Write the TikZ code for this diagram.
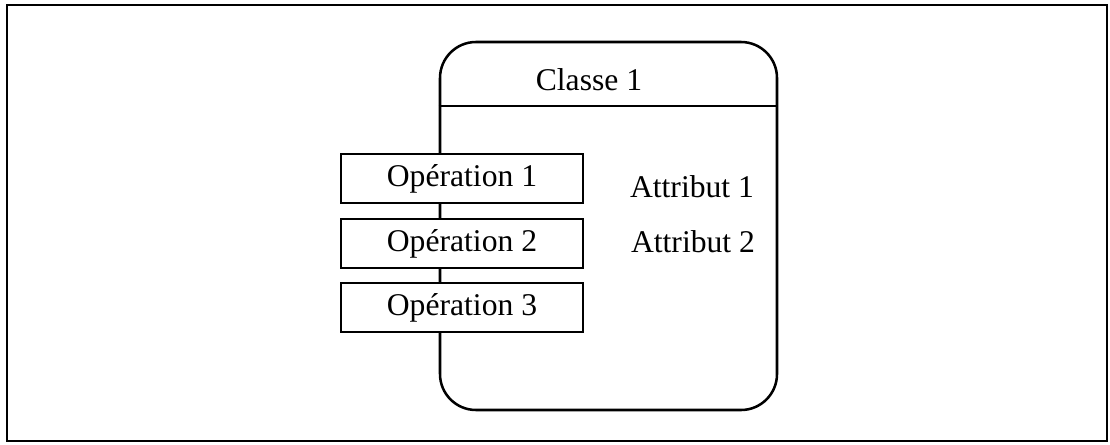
\documentclass[tikz,border=0pt]{standalone}
\usepackage{fontspec}
\setmainfont{Liberation Serif}

\begin{document}
\begin{tikzpicture}
          \tikzstyle{classe}=[draw, rectangle, rounded corners=0.9cm, line width=1.8pt, inner sep=0pt, minimum width=8.425cm, minimum height=9.2cm]
          \tikzstyle{operation}=[draw, rectangle, fill=white, line width=1.8pt, inner sep=0pt, minimum width=6.05cm, minimum height=1.225cm, font=\fontsize{22.5}{26}\selectfont]
          \tikzstyle{texte}=[inner sep=0pt, font=\fontsize{22.5}{26}\selectfont]

          \useasboundingbox (0, 0) rectangle (27.75, 11.1);
          \draw[line width=1.4pt] (0.175, 0.075) rectangle (27.675, 10.975);

          \node (classe) at (15.2125, 5.45) [classe] {};
          \node (classelabel) at (14.725, 9.1) [texte] {Classe 1};
          \draw[line width=1.8pt] (classe.west |- 0, 8.45) -- (classe.east |- 0, 8.45);

          \node (op1) at (11.55, 6.6375) [operation] {Opération 1};
          \node (op2) at (11.55, 5.0125) [operation] {Opération 2};
          \node (op3) at (11.55, 3.4125) [operation] {Opération 3};

          \node (attr1) at (17.3, 6.425) [texte] {Attribut 1};
          \node (attr2) at (17.325, 5.05) [texte] {Attribut 2};
        \end{tikzpicture}
\end{document}
